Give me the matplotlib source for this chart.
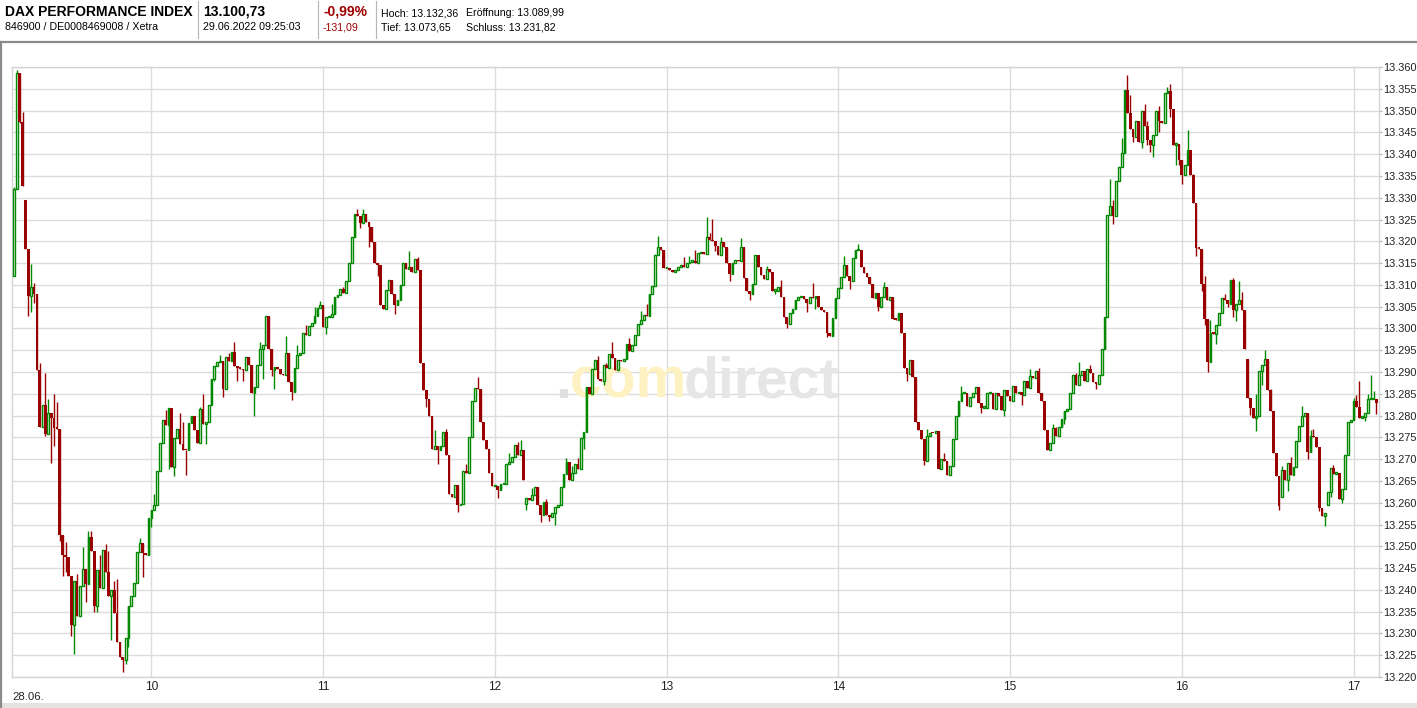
import matplotlib.pyplot as plt
from matplotlib.lines import Line2D
from matplotlib.patches import Rectangle
import numpy as np

plt.rcParams['font.family'] = ['Liberation Sans', 'DejaVu Sans']

# 1-minute closes, DAX 28.06., first candle 09:12
h09 = [13332.0, 13358.6, 13347.4, 13332.6, 13318.3, 13307.5, 13309.5, 13308.0, 13290.4, 13277.4,
       13282.4, 13275.8, 13280.6, 13279.5, 13277.2, 13277.0, 13252.7, 13248.1, 13247.6, 13243.1,
       13232.0, 13242.0, 13234.0, 13241.0, 13244.7, 13241.3, 13252.2, 13248.9, 13236.4, 13244.5,
       13240.5, 13249.2, 13244.1, 13238.6, 13239.9, 13234.8, 13228.0, 13224.5, 13224.0, 13228.9,
       13236.2, 13238.5, 13241.6, 13248.7, 13250.7, 13248.5, 13248.0, 13256.5]
h10 = [13258.3, 13259.5, 13267.2, 13273.7, 13279.0, 13277.8, 13281.7, 13268.1, 13274.9, 13276.9,
       13273.4, 13272.2, 13272.0, 13278.3, 13280.0, 13276.8, 13273.6, 13281.5, 13278.1, 13278.6,
       13282.4, 13288.5, 13291.4, 13292.2, 13292.6, 13286.0, 13293.4, 13292.6, 13294.6, 13291.3,
       13291.0, 13290.8, 13290.4, 13293.4, 13291.5, 13285.1, 13286.5, 13291.5, 13295.2, 13296.2,
       13302.8, 13295.3, 13290.4, 13291.1, 13290.6, 13289.6, 13289.3, 13294.3, 13287.6, 13285.5,
       13291.0, 13294.0, 13294.4, 13299.0, 13298.5, 13300.6, 13301.3, 13302.8, 13304.6, 13305.3]
h11 = [13300.3, 13302.6, 13302.7, 13303.2, 13307.2, 13307.6, 13309.0, 13308.1, 13311.0, 13315.0,
       13321.0, 13326.3, 13325.9, 13324.2, 13326.3, 13324.4, 13323.3, 13319.8, 13315.0, 13314.5,
       13305.3, 13304.5, 13308.9, 13311.2, 13308.0, 13305.3, 13306.5, 13310.0, 13315.0, 13313.7,
       13314.2, 13313.0, 13316.0, 13313.5, 13292.1, 13285.8, 13283.7, 13279.8, 13272.4, 13273.0,
       13272.2, 13273.0, 13276.3, 13271.0, 13262.1, 13261.2, 13264.0, 13259.4, 13259.8, 13267.3,
       13266.9, 13275.0, 13283.4, 13286.4, 13286.0, 13278.6, 13274.3, 13272.4, 13266.9, 13263.8]
h12 = [13263.8, 13262.9, 13264.2, 13264.4, 13269.0, 13269.4, 13270.5, 13273.2, 13270.9, 13272.2,
       13265.2, 13261.0, 13260.6, 13261.7, 13263.6, 13259.4, 13257.1, 13260.2, 13257.1, 13256.8,
       13257.7, 13259.0, 13259.4, 13263.5, 13266.5, 13269.4, 13265.3, 13266.9, 13269.0, 13267.8,
       13274.9, 13276.3, 13286.6, 13285.0, 13290.6, 13292.8, 13288.3, 13288.0, 13291.5, 13290.9,
       13294.1, 13293.1, 13290.5, 13292.7, 13292.5, 13293.0, 13296.4, 13294.8, 13296.1, 13298.4,
       13301.1, 13302.0, 13303.0, 13302.8, 13307.8, 13309.7, 13316.8, 13318.8, 13318.0, 13313.9]
h13 = [13313.9, 13313.3, 13313.0, 13313.5, 13314.0, 13314.6, 13314.2, 13315.0, 13315.3, 13315.5,
       13315.0, 13317.2, 13317.6, 13317.0, 13320.9, 13320.3, 13320.1, 13318.9, 13316.8, 13319.9,
       13318.8, 13315.0, 13312.5, 13315.0, 13315.7, 13315.5, 13318.8, 13311.5, 13308.5, 13307.9,
       13310.1, 13316.8, 13314.2, 13312.3, 13311.3, 13313.6, 13313.0, 13308.7, 13308.7, 13309.5,
       13307.3, 13302.6, 13301.1, 13303.5, 13304.4, 13306.6, 13307.2, 13307.5, 13306.7, 13305.8,
       13307.3, 13306.9, 13307.5, 13304.9, 13304.3, 13303.7, 13299.0, 13298.2, 13302.4, 13307.0]
h14 = [13309.2, 13311.9, 13314.6, 13312.0, 13310.8, 13316.1, 13318.0, 13318.1, 13314.2, 13312.7,
       13311.7, 13310.2, 13306.9, 13308.2, 13305.0, 13307.2, 13309.5, 13306.6, 13307.3, 13302.1,
       13302.0, 13303.5, 13298.9, 13290.9, 13289.6, 13292.7, 13288.9, 13278.5, 13276.7, 13274.7,
       13269.6, 13275.2, 13276.1, 13276.0, 13276.4, 13267.8, 13270.0, 13269.6, 13266.3, 13268.5,
       13274.7, 13280.0, 13283.3, 13285.1, 13285.2, 13282.2, 13284.3, 13285.2, 13286.6, 13282.9,
       13281.8, 13281.8, 13285.1, 13285.2, 13281.6, 13285.2, 13284.5, 13281.3, 13285.8, 13284.5]
h15 = [13283.3, 13286.9, 13285.2, 13285.4, 13284.8, 13287.9, 13286.4, 13289.0, 13288.7, 13290.2,
       13285.2, 13283.3, 13276.8, 13272.1, 13273.6, 13277.2, 13275.3, 13277.4, 13279.3, 13281.0,
       13281.4, 13285.2, 13289.2, 13287.1, 13289.4, 13290.2, 13287.9, 13290.7, 13289.7, 13287.7,
       13287.2, 13289.4, 13295.2, 13302.7, 13326.1, 13328.2, 13325.9, 13333.8, 13337.1, 13340.3,
       13354.8, 13349.4, 13345.8, 13343.9, 13347.5, 13342.9, 13350.0, 13346.5, 13343.3, 13342.0,
       13344.5, 13349.8, 13347.5, 13347.2, 13354.1, 13354.6, 13350.4, 13342.2, 13342.4, 13338.6]
h16 = [13335.1, 13337.6, 13340.9, 13335.3, 13328.7, 13318.5, 13318.3, 13310.3, 13302.2, 13292.3,
       13299.0, 13298.8, 13300.7, 13303.5, 13307.0, 13306.6, 13305.7, 13311.2, 13304.2, 13305.7,
       13306.6, 13304.3, 13295.3, 13284.1, 13281.8, 13279.5, 13280.0, 13290.2, 13291.7, 13293.0,
       13285.9, 13281.0, 13271.5, 13266.1, 13259.2, 13267.6, 13265.2, 13269.2, 13266.3, 13268.3,
       13274.2, 13277.7, 13279.9, 13280.5, 13271.6, 13275.4, 13275.1, 13272.8, 13258.9, 13257.0,
       13257.7, 13262.4, 13268.0, 13266.7, 13266.9, 13260.9, 13263.1, 13270.9, 13278.5, 13279.0]
h17 = [13283.3, 13282.0, 13279.5, 13279.6, 13280.5, 13283.8, 13283.8, 13283.8, 13283.0]

first_open = 13312.0
# opens that do not equal the previous close
gap_opens = {4: 13329.4, 179: 13259.8, 431: 13292.9, 443: 13261.2, 459: 13259.4}

# wick ends beyond the body
wick_hi = {0: 13332.5, 1: 13359.2, 3: 13349.6, 6: 13314.8, 7: 13310.4, 9: 13292, 11: 13289.7,
           12: 13283.7, 14: 13284.9, 15: 13283.1, 18: 13251, 22: 13243.6, 24: 13249.8, 26: 13253.6,
           27: 13253.6, 30: 13248, 32: 13250.5, 33: 13249, 35: 13242, 36: 13242.5, 44: 13252,
           49: 13262, 53: 13281.3, 58: 13280.6, 59: 13278.5, 65: 13282, 66: 13285, 72: 13294,
           75: 13294.3, 77: 13297, 86: 13297, 95: 13298.3, 99: 13296.2, 102: 13300.7, 105: 13305,
           107: 13306.2, 111: 13305.7, 115: 13309.6, 120: 13327.3, 122: 13327.5, 138: 13317.8,
           141: 13316.3, 147: 13276.6, 151: 13277, 158: 13268.9, 162: 13288.8, 173: 13271.5,
           176: 13274, 177: 13274.3, 181: 13263.4, 186: 13260.8, 193: 13270.3, 195: 13268.5,
           197: 13270.3, 204: 13293.6, 207: 13292, 209: 13296.8, 215: 13297.7, 219: 13304,
           221: 13305.7, 225: 13321.2, 234: 13316.5, 236: 13316.6, 238: 13318, 242: 13325.5,
           243: 13322, 244: 13325.2, 247: 13321, 254: 13320.7, 263: 13314.3, 268: 13311.2,
           279: 13310.5, 290: 13316.6, 295: 13319.3, 304: 13310.6, 319: 13277, 325: 13271.4,
           331: 13286.7, 354: 13287.6, 355: 13290.6, 358: 13291, 363: 13278.1, 364: 13277.4,
           371: 13289.8, 372: 13292.4, 374: 13290.2, 376: 13291.7, 383: 13334.2, 384: 13329.5,
           387: 13343.6, 389: 13358.1, 390: 13353.5, 393: 13347, 395: 13351.6, 396: 13347.6,
           400: 13351.1, 403: 13355.5, 404: 13356.1, 410: 13345.5, 411: 13340.3, 412: 13335.4,
           416: 13312, 418: 13302, 423: 13307.9, 426: 13311.5, 428: 13311, 429: 13308.4,
           434: 13285, 437: 13295, 439: 13286.2, 443: 13268.5, 446: 13270.6, 450: 13282.2,
           453: 13276.8, 454: 13277, 461: 13268.6, 463: 13266.7, 468: 13284, 469: 13284.8,
           470: 13288, 473: 13285, 474: 13289.2, 475: 13285.7}
wick_lo = {2: 13347.1, 5: 13302.8, 6: 13303.7, 7: 13305.8, 11: 13275.4, 13: 13269.2, 14: 13273,
           16: 13251.3, 17: 13243.1, 18: 13244, 20: 13229.3, 21: 13225.2, 25: 13237.2, 28: 13235,
           29: 13235, 34: 13228.5, 38: 13221.2, 39: 13223, 40: 13227, 45: 13243, 48: 13254.5,
           54: 13267.7, 56: 13266.2, 60: 13266.4, 67: 13273.4, 70: 13288, 73: 13284.3, 78: 13288,
           80: 13288, 84: 13280, 87: 13288.5, 90: 13289, 91: 13286, 97: 13283.5, 109: 13298.8,
           121: 13323, 124: 13318.8, 127: 13312, 133: 13303.3, 144: 13282, 148: 13268.9,
           155: 13257.9, 169: 13261, 179: 13258.4, 184: 13255.5, 187: 13255.7, 189: 13254.8,
           199: 13272.4, 206: 13287, 245: 13317.7, 250: 13310.8, 257: 13306.5, 266: 13308,
           270: 13300, 277: 13303.7, 280: 13304.5, 284: 13298, 292: 13309, 302: 13304, 312: 13288,
           318: 13268.6, 338: 13280.5, 346: 13279.8, 352: 13282.5, 367: 13278, 378: 13286,
           384: 13323.9, 391: 13342.9, 394: 13341.5, 396: 13342, 397: 13340.5, 398: 13339.3,
           400: 13345, 404: 13348.6, 406: 13337.5, 407: 13337.4, 408: 13333.1, 413: 13316.6,
           415: 13308.5, 416: 13300.7, 417: 13290, 420: 13296.5, 424: 13305, 426: 13302.7,
           427: 13301.6, 432: 13280.2, 434: 13276.5, 436: 13287, 442: 13258.3, 445: 13262.8,
           452: 13270, 456: 13258, 458: 13254.6, 460: 13261.3, 464: 13259.9, 472: 13278.8,
           476: 13280.4}

hour_ticks = [600, 660, 720, 780, 840, 900, 960, 1020]
hour_labels = ['10', '11', '12', '13', '14', '15', '16', '17']
start_min = 552  # 09:12

GREEN = '#008800'
RED = '#990000'
W, H = 1417, 708


def fx(x):
    return x / W


def fy(y):
    return 1 - y / H


closes = np.array(h09 + h10 + h11 + h12 + h13 + h14 + h15 + h16 + h17)
n = len(closes)
t = start_min + np.arange(n)
opens = np.concatenate([[first_open], closes[:-1]])
for k, v in gap_opens.items():
    opens[k] = v
highs = np.maximum(opens, closes)
lows = np.minimum(opens, closes)
for k, v in wick_hi.items():
    highs[k] = max(highs[k], v)
for k, v in wick_lo.items():
    lows[k] = min(lows[k], v)

up = closes >= opens
dn = ~up
body_lo = np.minimum(opens, closes)
body_h = np.maximum(np.abs(closes - opens), 0.3)

fig = plt.figure(figsize=(W / 100, H / 100), dpi=100)
ax = fig.add_axes([fx(12), fy(677), (1379 - 12) / W, (677 - 67) / H])

# frame around the chart block
fig.add_artist(Line2D([0, 1], [fy(42), fy(42)], color='#8a8a8a', lw=1.6))
fig.add_artist(Line2D([fx(1), fx(1)], [fy(42), 0], color='#8a8a8a', lw=1.6))
fig.add_artist(Rectangle((0, 0), 1, 5 / H, transform=fig.transFigure, color='#e2e2e2', lw=0))

# header
fig.text(fx(5), fy(12), 'DAX PERFORMANCE INDEX', fontsize=10, weight='bold', va='center')
fig.text(fx(5), fy(27.5), '846900 / DE0008469008 / Xetra', fontsize=7.7, va='center')
fig.text(fx(203), fy(12), '13.100,73', fontsize=10, weight='bold', va='center')
fig.text(fx(203), fy(27.5), '29.06.2022 09:25:03', fontsize=7.7, va='center')
fig.text(fx(323), fy(12), '-0,99%', fontsize=10, weight='bold', va='center', color='#a00000')
fig.text(fx(323), fy(27.5), '-131,09', fontsize=7.7, va='center', color='#a00000')
fig.text(fx(381), fy(13.5), 'Hoch: 13.132,36', fontsize=7.6, va='center')
fig.text(fx(381), fy(27.5), 'Tief: 13.073,65', fontsize=7.6, va='center')
fig.text(fx(466), fy(13.5), 'Eröffnung: 13.089,99', fontsize=7.6, va='center')
fig.text(fx(466), fy(27.5), 'Schluss: 13.231,82', fontsize=7.6, va='center')
for xs in [198, 318, 376]:
    fig.add_artist(Line2D([fx(xs), fx(xs)], [fy(1), fy(38)], color='#b5b5b5', lw=0.8))

# watermark
wm = dict(transform=fig.transFigure, fontsize=41, weight='bold', va='baseline', zorder=1)
ax.text(fx(555), fy(398), '.', color='#e0e0e0', **wm)
ax.text(fx(570), fy(398), 'com', color='#fff2c2', **wm)
ax.text(fx(684), fy(398), 'direct', color='#e6e6e6', **wm)

# candles
ax.vlines(t[up], lows[up], highs[up], color=GREEN, lw=1.0, zorder=3)
ax.vlines(t[dn], lows[dn], highs[dn], color=RED, lw=1.0, zorder=3)
ax.bar(t[up], body_h[up], bottom=body_lo[up], width=0.62, facecolor='white',
       edgecolor=GREEN, linewidth=1.0, zorder=4)
ax.bar(t[dn], body_h[dn], bottom=body_lo[dn], width=0.95, color=RED, linewidth=0, zorder=4)

ax.set_xlim(start_min - 0.7, start_min + 476.9)
ax.set_ylim(13220, 13360)
yt = np.arange(13220, 13361, 5)
ax.set_yticks(yt)
ax.set_yticklabels([f'{v / 1000:.3f}' for v in yt])
ax.set_xticks(hour_ticks)
ax.set_xticklabels(hour_labels)
ax.yaxis.tick_right()
ax.tick_params(axis='y', length=2.5, width=0.8, color='#b0b0b0', labelsize=7.9, pad=0.5,
               labelcolor='#222222')
ax.tick_params(axis='x', length=0, labelsize=8.6, pad=3, labelcolor='#222222')
ax.grid(True, color='#dcdcdc', lw=1.0, zorder=0)
ax.set_axisbelow(True)
for s in ax.spines.values():
    s.set_color('#d4d4d4')
    s.set_linewidth(1.0)

fig.text(fx(12), fy(697), '28.06.', fontsize=8.2, va='center', color='#222222')

fig.savefig('out.png', dpi=100)
